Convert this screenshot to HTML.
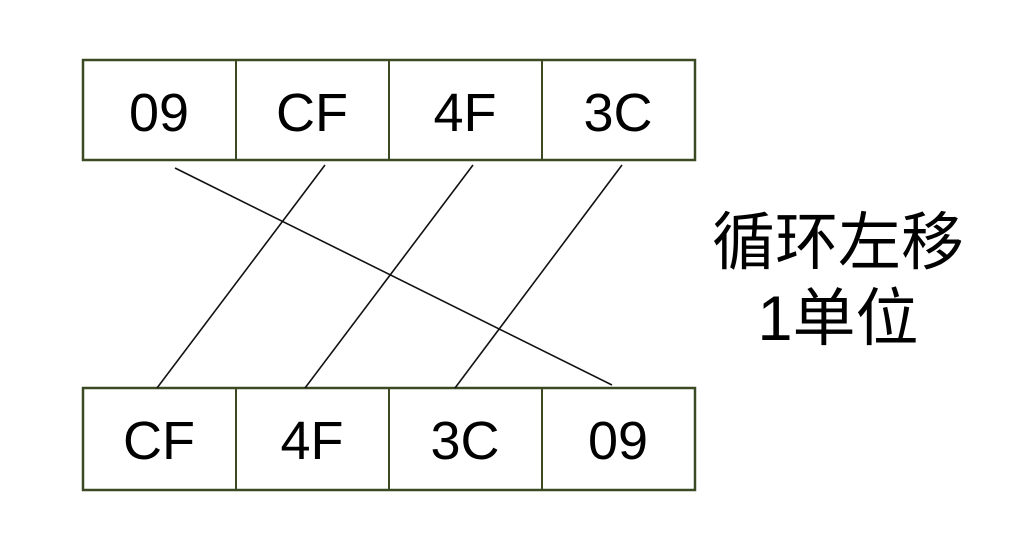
<!DOCTYPE html>
<html><head><style>
body{margin:0;background:#fff;width:1036px;height:532px;overflow:hidden}
</style></head><body>
<svg width="1036" height="532" xmlns="http://www.w3.org/2000/svg">
<g fill="#fff" stroke="#3b4a22" stroke-width="2.5">
<rect x="83" y="60" width="612" height="100"/>
<rect x="83" y="388" width="612" height="102"/>
</g>
<g stroke="#3b4a22" stroke-width="2">
<line x1="236" y1="60" x2="236" y2="160"/><line x1="389" y1="60" x2="389" y2="160"/><line x1="542" y1="60" x2="542" y2="160"/>
<line x1="236" y1="388" x2="236" y2="490"/><line x1="389" y1="388" x2="389" y2="490"/><line x1="542" y1="388" x2="542" y2="490"/>
</g>
<g stroke="#111" stroke-width="1.6">
<line x1="175" y1="168" x2="612" y2="385"/>
<line x1="325" y1="165" x2="157" y2="388"/>
<line x1="473" y1="165" x2="305" y2="388"/>
<line x1="622" y1="165" x2="455" y2="388"/>
</g>
<g font-family="Liberation Sans, sans-serif" font-size="54" text-anchor="middle" fill="#000">
<text x="159" y="131">09</text><text x="312" y="131">CF</text><text x="465" y="131">4F</text><text x="618" y="131">3C</text>
<text x="159" y="459">CF</text><text x="312" y="459">4F</text><text x="465" y="459">3C</text><text x="618" y="459">09</text>
</g>
<g font-family="Liberation Sans, Noto Sans CJK SC, sans-serif" font-size="63" text-anchor="middle" fill="#000">
<text x="838" y="264">循环左移</text>
<text x="838" y="340">1单位</text>
</g>
</svg>
</body></html>
